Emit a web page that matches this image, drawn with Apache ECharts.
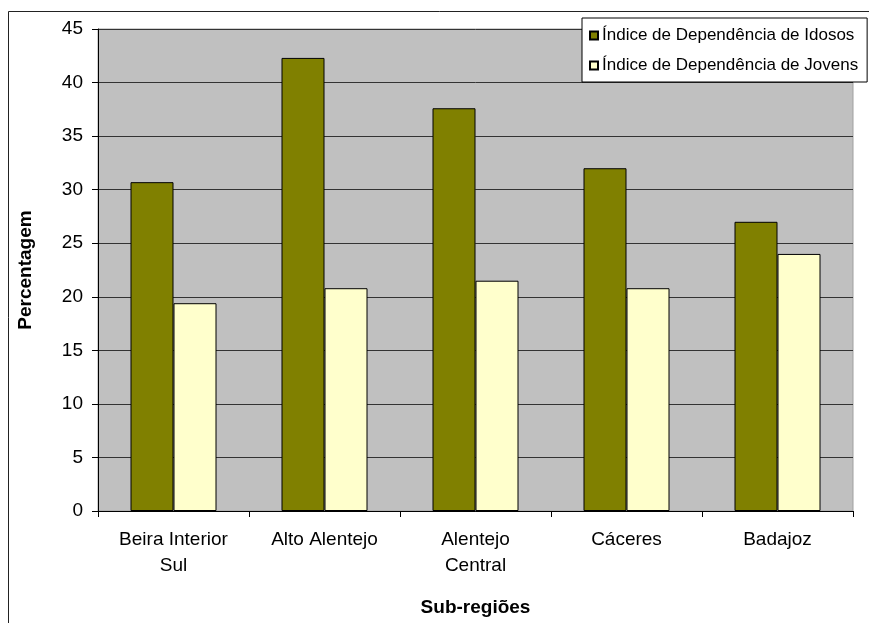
<!DOCTYPE html>
<html>
<head>
<meta charset="utf-8">
<script src="https://cdn.jsdelivr.net/npm/echarts@6/dist/echarts.min.js"></script>
<style>
  html, body { margin: 0; padding: 0; background: #fff; }
  #chart { width: 869px; height: 623px; }
</style>
</head>
<body>
<div id="chart"></div>
<script>
// Sub-regions on the category axis
const categories = ['Beira Interior\nSul', 'Alto Alentejo', 'Alentejo\nCentral', 'Cáceres', 'Badajoz'];
// Dependency indexes (%)
const idosos = [30.7, 42.3, 37.6, 32.0, 27.0];
const jovens = [19.4, 20.8, 21.5, 20.8, 24.0];
const seriesNames = ['Índice de Dependência de Idosos', 'Índice de Dependência de Jovens'];
const yTicks = { min: 0, max: 45, step: 5 };

const FONT = "'Liberation Sans', Arial, sans-serif";

const chart = echarts.init(document.getElementById('chart'), null, { renderer: 'canvas' });

chart.setOption({
  backgroundColor: '#ffffff',
  animation: false,
  textStyle: { fontFamily: FONT, color: '#000' },
  graphic: [{
    // outer chart frame
    type: 'rect',
    shape: { x: 8.5, y: 11.5, width: 1000, height: 1000 },
    style: { fill: 'none', stroke: '#222', lineWidth: 1 },
    z: 0
  }],
  grid: {
    left: 98, right: 16, top: 29, bottom: 112,
    show: true,
    backgroundColor: '#c0c0c0',
    borderColor: '#a0a0a0',
    borderWidth: 1
  },
  legend: {
    orient: 'vertical',
    left: 582, top: 18,
    padding: [9, 9, 8, 7],
    itemWidth: 8, itemHeight: 8,
    itemGap: 13,
    icon: 'rect',
    backgroundColor: '#ffffff',
    borderColor: '#000',
    borderWidth: 1,
    textStyle: { fontFamily: FONT, fontSize: 17, color: '#000', padding: [0, 0, 0, -1] },
    data: seriesNames
  },
  xAxis: {
    type: 'category',
    data: categories,
    name: 'Sub-regiões',
    nameLocation: 'middle',
    nameGap: 87,
    nameTextStyle: { fontFamily: FONT, fontSize: 19, fontWeight: 'bold', color: '#000' },
    axisLine: { lineStyle: { color: '#000', width: 1 } },
    axisTick: { show: true, length: 6, lineStyle: { color: '#000' } },
    axisLabel: { fontFamily: FONT, fontSize: 19, color: '#000', margin: 16, lineHeight: 26, interval: 0 },
    splitLine: { show: false }
  },
  yAxis: {
    type: 'value',
    min: yTicks.min, max: yTicks.max, interval: yTicks.step,
    name: 'Percentagem',
    nameLocation: 'middle',
    nameRotate: 90,
    nameGap: 63,
    nameTextStyle: { fontFamily: FONT, fontSize: 19, fontWeight: 'bold', color: '#000' },
    axisLine: { show: true, lineStyle: { color: '#000', width: 1 } },
    axisTick: { show: true, length: 6, lineStyle: { color: '#000' } },
    axisLabel: { fontFamily: FONT, fontSize: 19, color: '#000', margin: 15 },
    splitLine: { show: true, lineStyle: { color: '#333', width: 1 } }
  },
  series: [
    {
      name: seriesNames[0],
      type: 'bar',
      data: idosos,
      barWidth: 43,
      barGap: '0%',
      itemStyle: { color: '#808000', borderColor: '#000', borderWidth: 1 }
    },
    {
      name: seriesNames[1],
      type: 'bar',
      data: jovens,
      barWidth: 43,
      barGap: '0%',
      itemStyle: { color: '#ffffcc', borderColor: '#000', borderWidth: 1 }
    }
  ]
});
</script>
</body>
</html>
